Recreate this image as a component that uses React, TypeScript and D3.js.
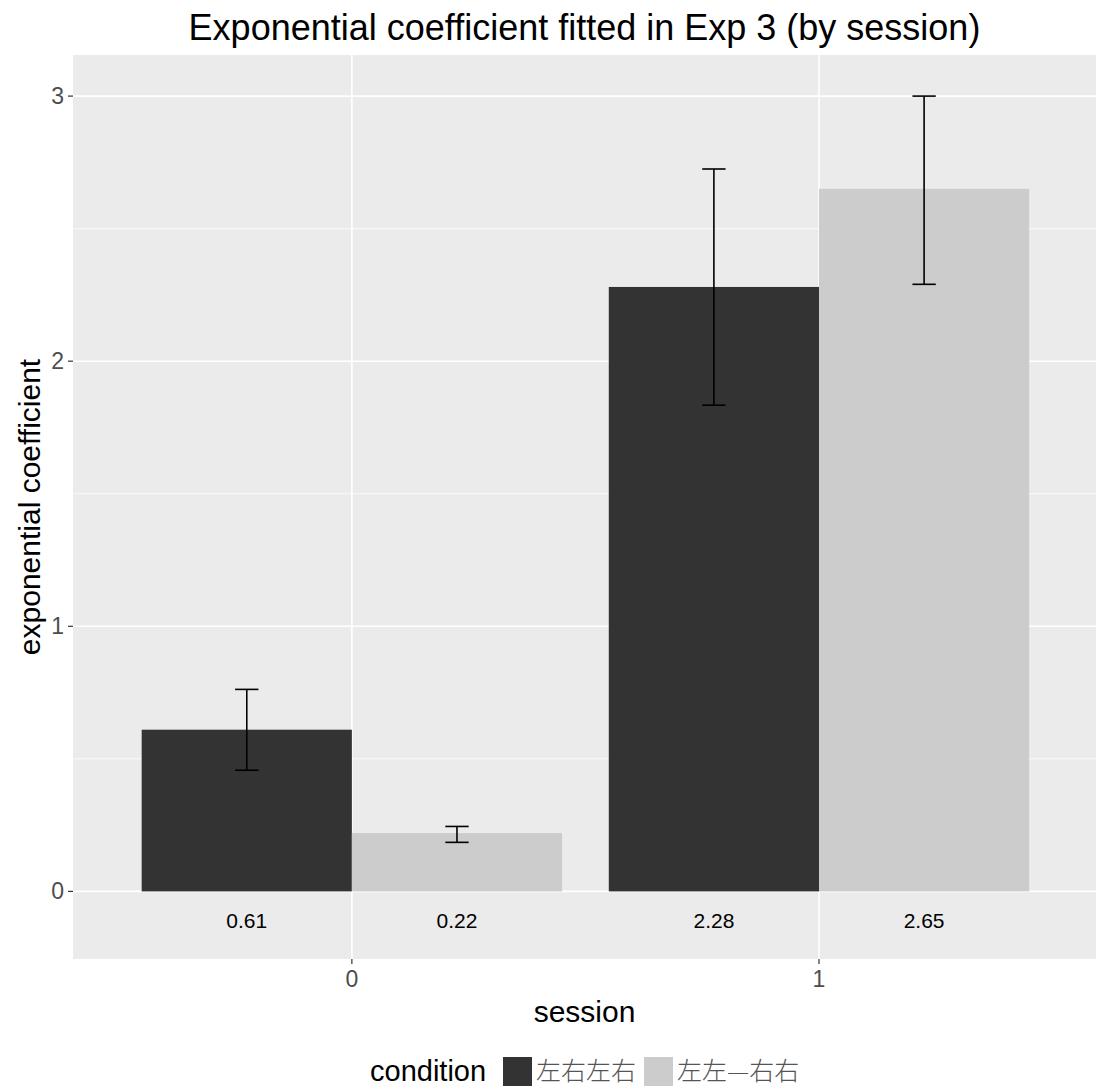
import React from 'react';
import * as d3 from 'd3';

const sessions = [0, 1];
const conditions = ['左右左右', '左左—右右'];
const colors = ['#333333', '#cccccc'];
// values[condition][session]
const means = [
  [0.61, 2.28],
  [0.22, 2.65],
];
const lows = [
  [0.457, 1.834],
  [0.185, 2.29],
];
const highs = [
  [0.762, 2.725],
  [0.245, 3.0],
];
const labels = [
  ['0.61', '2.28'],
  ['0.22', '2.65'],
];
const yTicks = [0, 1, 2, 3];
const yMinor = [0.5, 1.5, 2.5];

const W = 1096;
const H = 1090;
const panel = { left: 73, right: 1096, top: 55, bottom: 959 };
const font = 'Liberation Sans, Arial, sans-serif';

const App = () => {
  const x = d3.scaleLinear().domain([-0.597, 1.593]).range([panel.left, panel.right]);
  const y = d3.scaleLinear().domain([-0.255, 3.155]).range([panel.bottom, panel.top]);
  const barW = 0.45;
  const capW = 0.025;

  const bars = [];
  conditions.forEach((c, ci) => {
    sessions.forEach((s, si) => {
      const x0 = s - 0.45 + ci * barW;
      const cx = x0 + barW / 2;
      bars.push(
        <g key={`${ci}-${si}`}>
          <rect
            x={x(x0)}
            y={y(means[ci][si])}
            width={x(x0 + barW) - x(x0)}
            height={y(0) - y(means[ci][si])}
            fill={colors[ci]}
          />
          <line x1={x(cx)} x2={x(cx)} y1={y(lows[ci][si])} y2={y(highs[ci][si])} stroke="#000" strokeWidth={1.6} />
          <line x1={x(cx - capW)} x2={x(cx + capW)} y1={y(lows[ci][si])} y2={y(lows[ci][si])} stroke="#000" strokeWidth={1.6} />
          <line x1={x(cx - capW)} x2={x(cx + capW)} y1={y(highs[ci][si])} y2={y(highs[ci][si])} stroke="#000" strokeWidth={1.6} />
          <text x={x(cx)} y={y(-0.11)} dy="0.35em" textAnchor="middle" fontSize={21} fill="#000" fontFamily={font}>
            {labels[ci][si]}
          </text>
        </g>
      );
    });
  });

  return (
    <svg width={W} height={H} style={{ position: 'absolute', left: 0, top: 0, background: '#fff' }}>
      <rect x={panel.left} y={panel.top} width={panel.right - panel.left} height={panel.bottom - panel.top} fill="#ebebeb" />
      {yMinor.map((t) => (
        <line key={`m${t}`} x1={panel.left} x2={panel.right} y1={y(t)} y2={y(t)} stroke="#fff" strokeWidth={0.8} />
      ))}
      {yTicks.map((t) => (
        <line key={`g${t}`} x1={panel.left} x2={panel.right} y1={y(t)} y2={y(t)} stroke="#fff" strokeWidth={1.6} />
      ))}
      {sessions.map((s) => (
        <line key={`v${s}`} x1={x(s)} x2={x(s)} y1={panel.top} y2={panel.bottom} stroke="#fff" strokeWidth={1.6} />
      ))}
      {bars}

      {/* y axis */}
      {yTicks.map((t) => (
        <g key={`yt${t}`}>
          <line x1={panel.left - 5} x2={panel.left} y1={y(t)} y2={y(t)} stroke="#333" strokeWidth={1.2} />
          <text x={panel.left - 9} y={y(t)} dy="0.35em" textAnchor="end" fontSize={23} fill="#4d4d4d" fontFamily={font}>
            {t}
          </text>
        </g>
      ))}
      {/* x axis */}
      {sessions.map((s) => (
        <g key={`xt${s}`}>
          <line x1={x(s)} x2={x(s)} y1={panel.bottom} y2={panel.bottom + 5} stroke="#333" strokeWidth={1.2} />
          <text x={x(s)} y={panel.bottom + 20} textAnchor="middle" dy="0.35em" fontSize={23} fill="#4d4d4d" fontFamily={font}>
            {s}
          </text>
        </g>
      ))}

      <text x={(panel.left + panel.right) / 2} y={1011} dy="0.35em" textAnchor="middle" fontSize={30} fill="#000" fontFamily={font}>
        session
      </text>
      <text
        transform={`translate(29, ${(panel.top + panel.bottom) / 2}) rotate(-90)`}
        dy="0.35em"
        textAnchor="middle"
        fontSize={30}
        fill="#000"
        fontFamily={font}
      >
        exponential coefficient
      </text>
      <text x={(panel.left + panel.right) / 2} y={27} dy="0.35em" textAnchor="middle" fontSize={36} fill="#000" fontFamily={font}>
        Exponential coefficient fitted in Exp 3 (by session)
      </text>

      {/* legend */}
      <g>
        <text x={370} y={1071} dy="0.35em" fontSize={29} fill="#000" fontFamily={font}>
          condition
        </text>
        <rect x={503} y={1057} width={29} height={29} fill={colors[0]} />
        <text x={536} y={1071} dy="0.35em" fontSize={25} fill="#555" fontFamily="Noto Sans CJK SC" fontWeight={300}>
          {conditions[0]}
        </text>
        <rect x={644} y={1057} width={29} height={29} fill={colors[1]} />
        <text x={677} y={1071} dy="0.35em" fontSize={25} fill="#555" fontFamily="Noto Sans CJK SC" fontWeight={300}>
          {conditions[1]}
        </text>
      </g>
    </svg>
  );
};

export default App;
